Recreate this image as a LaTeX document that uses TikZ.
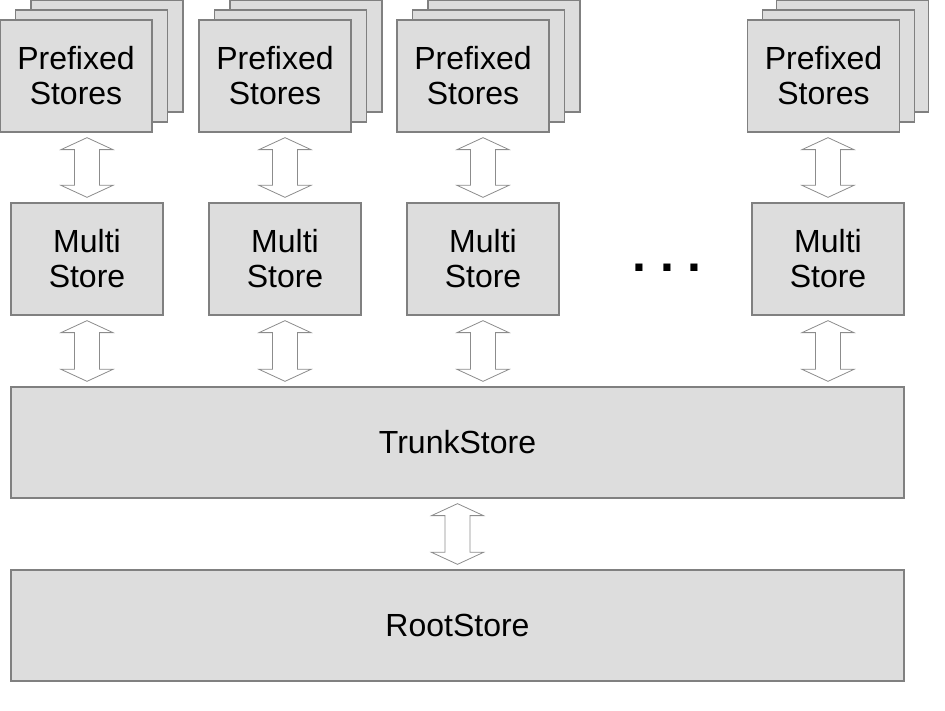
\documentclass[tikz,border=0pt]{standalone}
\usepackage{fontspec}
\setmainfont{Liberation Sans}
\usetikzlibrary{calc}

\definecolor{storefill}{HTML}{DDDDDD}
\definecolor{storeline}{HTML}{808080}
\definecolor{arrowline}{HTML}{8C8C8C}

\tikzset{
  store/.style={draw=storeline, fill=storefill, line width=1.3pt, inner sep=0pt,
    minimum width=152pt, minimum height=112pt, align=center,
    font=\fontsize{32}{35}\selectfont},
  widestore/.style={store, minimum width=893pt, minimum height=111pt},
  blockarrow/.style={draw=arrowline, fill=white, line width=0.8pt}
}

% double block arrow between two points on one vertical
\newcommand{\dblarrow}[2]{%
  \draw[blockarrow] let \p1=#1, \p2=#2 in
    (\x1,\y1-5) -- (\x1+26,\y1-17) -- (\x1+12.5,\y1-17) -- (\x1+12.5,\y2+17)
    -- (\x1+26,\y2+17) -- (\x1,\y2+5) -- (\x1-26,\y2+17) -- (\x1-12.5,\y2+17)
    -- (\x1-12.5,\y1-17) -- (\x1-26,\y1-17) -- cycle;}

\begin{document}
\begin{tikzpicture}[x=1pt,y=1pt]
\useasboundingbox (0,0) rectangle (945,711);

% prefixed stores, three sheets each
\node[store] at (76+31,655) {};
\node[store] at (76+15.5,645) {};
\node[store] (p1) at (76,635) {Prefixed\\Stores};
\node[store] at (275+31,655) {};
\node[store] at (275+15.5,645) {};
\node[store] (p2) at (275,635) {Prefixed\\Stores};
\node[store] at (473+31,655) {};
\node[store] at (473+15.5,645) {};
\node[store] (p3) at (473,635) {Prefixed\\Stores};
\node[store] at (823.5+29,655) {};
\node[store] at (823.5+15,645) {};
\node[store] (p4) at (823.5,635) {Prefixed\\Stores};

% multi stores
\node[store] (m1) at (87,452) {Multi\\Store};
\node[store] (m2) at (285,452) {Multi\\Store};
\node[store] (m3) at (483,452) {Multi\\Store};
\node[store] (m4) at (828,452) {Multi\\Store};
\node[font=\fontsize{50}{50}\selectfont\bfseries, anchor=base] (dots) at (667,439) {.\ .\ .};

\node[widestore] (t) at (457.5,268.5) {TrunkStore};
\node[widestore] (r) at (457.5,85.5) {RootStore};

\dblarrow{(p1.south -| m1.north)}{(m1.north)}
\dblarrow{(p2.south -| m2.north)}{(m2.north)}
\dblarrow{(p3.south -| m3.north)}{(m3.north)}
\dblarrow{(p4.south -| m4.north)}{(m4.north)}

\dblarrow{(m1.south)}{(m1.south |- t.north)}
\dblarrow{(m2.south)}{(m2.south |- t.north)}
\dblarrow{(m3.south)}{(m3.south |- t.north)}
\dblarrow{(m4.south)}{(m4.south |- t.north)}

\dblarrow{(t.south)}{(r.north)}
\end{tikzpicture}
\end{document}
